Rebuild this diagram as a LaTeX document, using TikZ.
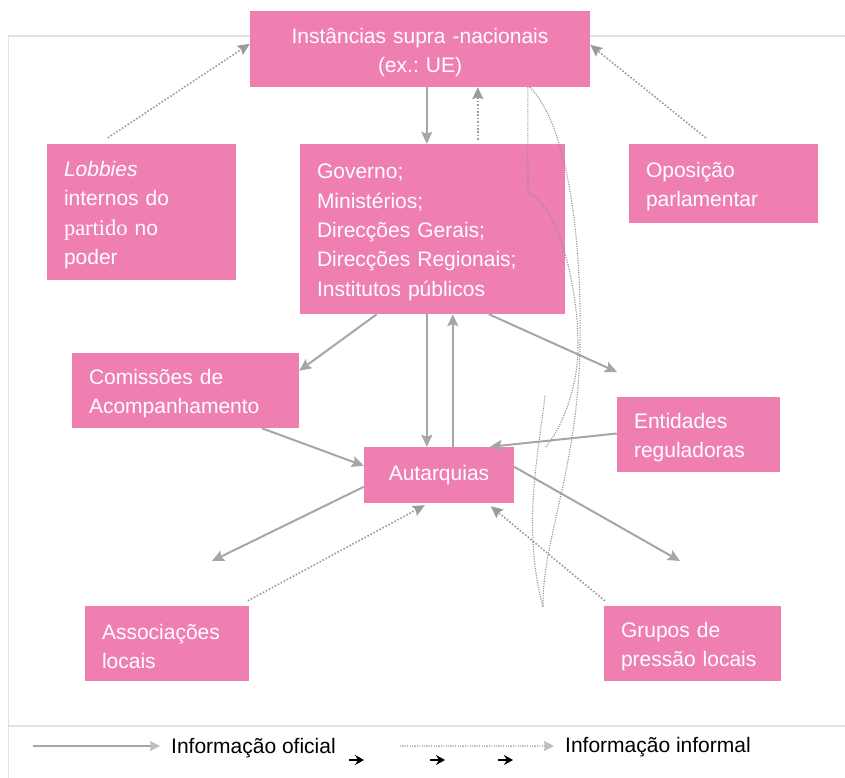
\documentclass[tikz,border=0pt]{standalone}
\usepackage{fontspec}
\setmainfont{Liberation Sans}
\newfontfamily\serifpart{Liberation Serif}
\usetikzlibrary{arrows.meta}
\frenchspacing
\definecolor{boxpink}{RGB}{240,127,177}
\definecolor{congray}{RGB}{166,166,168}
\definecolor{dotgray}{RGB}{155,155,157}
\definecolor{curvegray}{RGB}{145,145,147}
\definecolor{framegray}{RGB}{226,226,226}
\definecolor{leggray}{RGB}{190,190,192}
\tikzset{
  box/.style={fill=boxpink, draw=none, text=white, inner ysep=0pt, inner xsep=17pt,
    font=\fontsize{21}{29.3}\selectfont, align=left, text height=21.5pt},
  offarrow/.style={draw=congray, line width=2pt, -{Stealth[length=12pt,width=11pt,inset=2pt]}},
  infarrow/.style={draw=dotgray, line width=1.6pt, dash pattern=on 1.6pt off 1.8pt,
    -{Stealth[length=12pt,width=11pt,inset=2pt]}},
  curvline/.style={draw=curvegray, line width=1.1pt, dash pattern=on 1.1pt off 1.3pt},
  legtext/.style={font=\fontsize{21}{24}\selectfont, anchor=west, inner sep=0pt},
  blackarrow/.style={draw=black, line width=1.8pt, -{Stealth[length=9pt,width=10pt]}}
}
\begin{document}
\begin{tikzpicture}[x=1pt,y=-1pt]
\useasboundingbox (0,0) rectangle (845,778);
% frame
\draw[framegray, line width=1.6pt] (845,36) -- (8.5,36) -- (8.5,778);
\draw[framegray, line width=1.6pt] (8.5,726) -- (845,726);

% boxes
\node[box, align=center, text width=306pt, minimum height=76pt, text height=23pt] (sup) at (420,49)
  {Instâncias supra -nacionais\\(ex.: UE)};
\node[box, text width=155pt, minimum height=136pt] (lob) at (141.5,212)
  {{\itshape Lobbies}\\internos do\\{\serifpart\fontsize{22.5}{29.3}\selectfont partido} no\\poder};
\node[box, text width=231pt, minimum height=170pt] (gov) at (432.5,229)
  {Governo;\\Ministérios;\\Direcções Gerais;\\Direcções Regionais;\\Institutos públicos};
\node[box, text width=155pt, minimum height=79pt] (opo) at (723.5,183.5)
  {Oposição\\parlamentar};
\node[box, text width=193pt, minimum height=75pt] (com) at (185.5,390.5)
  {Comissões de\\Acompanhamento};
\node[box, text width=129pt, minimum height=75pt] (ent) at (698.5,434.5)
  {Entidades\\reguladoras};
\node[box, align=center, text width=116pt, minimum height=56pt, text height=15.5pt] (aut) at (439,475)
  {Autarquias};
\node[box, text width=130pt, minimum height=75pt] (ass) at (167,643.5)
  {Associações\\locais};
\node[box, text width=143pt, minimum height=75pt] (gru) at (692.5,643.5)
  {Grupos de\\pressão locais};

% free ends
\coordinate (entend) at (617,372);
\coordinate (assend) at (212,561);
\coordinate (gruend) at (680,561);

% official information
\draw[offarrow] ([xshift=177pt]sup.south west) -- ([xshift=127pt]gov.north west);
\draw[offarrow] ([xshift=127pt]gov.south west) -- ([xshift=63pt]aut.north west);
\draw[offarrow] ([xshift=89pt]aut.north west) -- ([xshift=153pt]gov.south west);
\draw[offarrow] ([xshift=77pt]gov.south west) -- ([yshift=-18pt]com.north east);
\draw[offarrow] ([xshift=189pt]gov.south west) -- (entend);
\draw[offarrow] ([xshift=190pt]com.south west) -- ([yshift=-19pt]aut.north west);
\draw[offarrow] ([yshift=1pt]ent.west) -- ([xshift=126pt]aut.north west);
\draw[offarrow] ([yshift=-40pt]aut.north west) -- (assend);
\draw[offarrow] ([yshift=-20pt]aut.north east) -- (gruend);

% informal information
\draw[infarrow] ([xshift=61pt,yshift=6pt]lob.north west) -- ([yshift=-33pt]sup.north west);
\draw[infarrow] ([xshift=77pt,yshift=6pt]opo.north west) -- ([yshift=-34pt]sup.north east);
\draw[infarrow] ([xshift=178pt,yshift=4pt]gov.north west) -- ([xshift=228pt]sup.south west);
\draw[infarrow] ([xshift=163pt,yshift=5pt]ass.north west) -- ([xshift=61pt,yshift=-2pt]aut.south west);
\draw[infarrow] ([xshift=1pt,yshift=5pt]gru.north west) -- ([xshift=127pt,yshift=-3pt]aut.south west);

% hand-drawn dotted curves
\draw[curvline] ([xshift=278pt]sup.south west) -- (528,193)
  .. controls (558,205) and (578,285) .. (578,345)
  .. controls (578,392) and (560,430) .. (545,448);
\draw[curvline] ([xshift=280pt]sup.south west)
  .. controls (568,125) and (582,240) .. (580,345)
  .. controls (578,470) and (542,540) .. (543,607);
\draw[curvline] (545,396) .. controls (538,455) and (522,530) .. (543,607);

% legend
\coordinate (l1a) at (33,746);
\coordinate (l1b) at (160,746);
\draw[draw=congray, line width=1.6pt, -{Stealth[length=10pt,width=10pt,inset=1pt,color=leggray]}] (l1a) -- (l1b);
\node[legtext] (lt1) at (171,748) {Informação oficial};
\coordinate (b1a) at (349,760); \coordinate (b1b) at (364,760);
\coordinate (b2a) at (430,760); \coordinate (b2b) at (445,760);
\coordinate (b3a) at (498,760); \coordinate (b3b) at (513,760);
\draw[blackarrow] (b1a) -- (b1b);
\draw[blackarrow] (b2a) -- (b2b);
\draw[blackarrow] (b3a) -- (b3b);
\coordinate (l2a) at (400,746);
\coordinate (l2b) at (554,746);
\draw[draw=leggray, line width=1.4pt, dash pattern=on 1.2pt off 1.2pt, -{Stealth[length=10pt,width=10pt,inset=1pt]}] (l2a) -- (l2b);
\node[legtext] (lt2) at (565,747) {Informação informal};
\end{tikzpicture}
\end{document}
